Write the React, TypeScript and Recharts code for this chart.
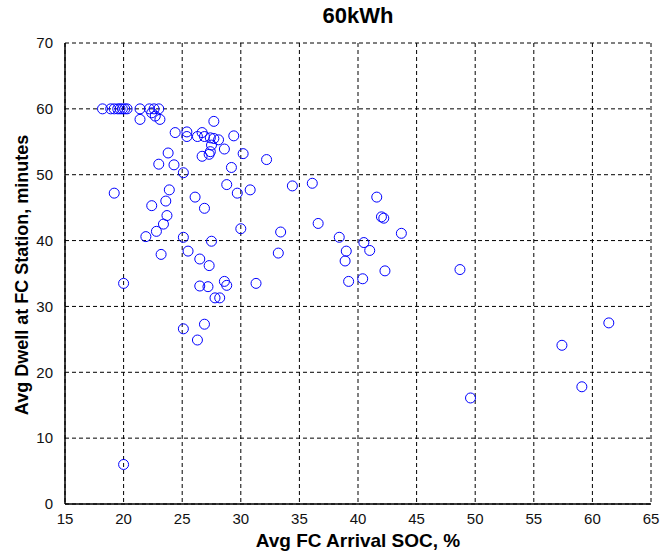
import { ScatterChart, Scatter, XAxis, YAxis, CartesianGrid } from "recharts";

const X_TICKS = [15, 20, 25, 30, 35, 40, 45, 50, 55, 60, 65];
const Y_TICKS = [0, 10, 20, 30, 40, 50, 60, 70];

// arrival SOC (%)
const socValues = [
  18.2, 18.9, 19.2, 19.5, 19.7, 19.9, 20.1, 20.3, 21.4, 22.2, 22.6, 23.0,
  21.4, 22.4, 22.7, 23.1,
  27.7, 24.4, 25.4, 25.4, 26.3, 26.7, 26.9, 27.4, 27.7, 28.1, 27.5, 28.6,
  29.4, 27.4, 27.3, 26.7, 30.2, 32.2, 23.8, 24.3, 23.0, 25.1, 29.2,
  19.2, 23.9, 23.6, 22.4, 26.1, 26.9, 28.8, 29.7, 30.8, 34.4, 36.1, 41.6,
  42.0, 42.2, 36.6, 43.7, 23.7, 23.4, 22.8, 21.9, 25.1, 27.5, 30.0, 33.4,
  38.4, 40.5, 41.0, 39.0, 38.9, 42.3, 39.2, 40.4, 48.7, 33.2, 23.2, 25.5,
  26.5, 27.3, 20.0, 26.5, 27.2, 28.6, 28.8, 31.3, 27.8, 28.2,
  25.1, 26.9, 26.3, 20.0, 61.4, 57.4, 59.1, 49.6,
];

// average dwell (minutes), same order
const dwellValues = [
  60, 60, 60, 60, 60, 60, 60, 60, 60, 60, 60, 60,
  58.4, 59.4, 58.9, 58.4,
  58.1, 56.4, 56.5, 55.8, 55.8, 56.4, 55.8, 55.6, 55.5, 55.3, 54.5, 53.9,
  55.9, 53.5, 53.1, 52.8, 53.2, 52.3, 53.3, 51.5, 51.6, 50.3, 51.1,
  47.2, 47.7, 46.0, 45.3, 46.6, 44.9, 48.5, 47.2, 47.7, 48.3, 48.7, 46.6,
  43.6, 43.4, 42.6, 41.1, 43.8, 42.5, 41.4, 40.6, 40.5, 39.9, 41.8, 41.3,
  40.5, 39.7, 38.5, 38.4, 36.9, 35.4, 33.8, 34.2, 35.6, 38.1, 37.9, 38.4,
  37.2, 36.2, 33.5, 33.1, 33.0, 33.8, 33.2, 33.5, 31.3, 31.3,
  26.6, 27.3, 24.9, 6.0, 27.5, 24.1, 17.8, 16.1,
];

const points = socValues.map((soc, i) => ({ soc, dwell: dwellValues[i] }));

const FONT = "'Liberation Sans', Arial, sans-serif";
const tickStyle = { fill: "#111", fontSize: 15, fontFamily: FONT };

const ringShape = (props: any) => (
  <circle
    cx={props.cx}
    cy={props.cy}
    r={5}
    fill="none"
    stroke="#0000ff"
    strokeWidth={1}
  />
);

export default function App() {
  return (
    <div
      style={{
        position: "absolute",
        left: 0,
        top: 0,
        width: 660,
        height: 556,
        background: "#fff",
        fontFamily: FONT,
      }}
    >
      <div
        style={{
          position: "absolute",
          left: 0,
          width: 716,
          top: 3,
          textAlign: "center",
          fontWeight: "bold",
          fontSize: 22,
        }}
      >
        60kWh
      </div>
      <ScatterChart
        width={660}
        height={556}
        margin={{ top: 43, right: 9, bottom: 0, left: 0 }}
      >
        <CartesianGrid
          stroke="#000"
          strokeDasharray="4 3"
          horizontalValues={Y_TICKS}
          verticalValues={X_TICKS}
        />
        <XAxis
          type="number"
          dataKey="soc"
          domain={[15, 65]}
          ticks={X_TICKS}
          height={52}
          tickLine={false}
          axisLine={{ stroke: "#000", strokeWidth: 1.5 }}
          tick={tickStyle}
          tickMargin={3}
        />
        <YAxis
          type="number"
          dataKey="dwell"
          domain={[0, 70]}
          ticks={Y_TICKS}
          width={65}
          tickLine={false}
          axisLine={{ stroke: "#000", strokeWidth: 1.5 }}
          tick={tickStyle}
          tickMargin={6}
        />
        <Scatter data={points} shape={ringShape} isAnimationActive={false} />
      </ScatterChart>
      <div
        style={{
          position: "absolute",
          left: 0,
          width: 716,
          top: 530,
          textAlign: "center",
          fontWeight: "bold",
          fontSize: 19,
        }}
      >
        Avg FC Arrival SOC, %
      </div>
      <div
        style={{
          position: "absolute",
          left: 22,
          top: 275,
          transform: "translate(-50%, -50%) rotate(-90deg)",
          whiteSpace: "nowrap",
          fontWeight: "bold",
          fontSize: 18,
        }}
      >
        Avg Dwell at FC Station, minutes
      </div>
    </div>
  );
}
